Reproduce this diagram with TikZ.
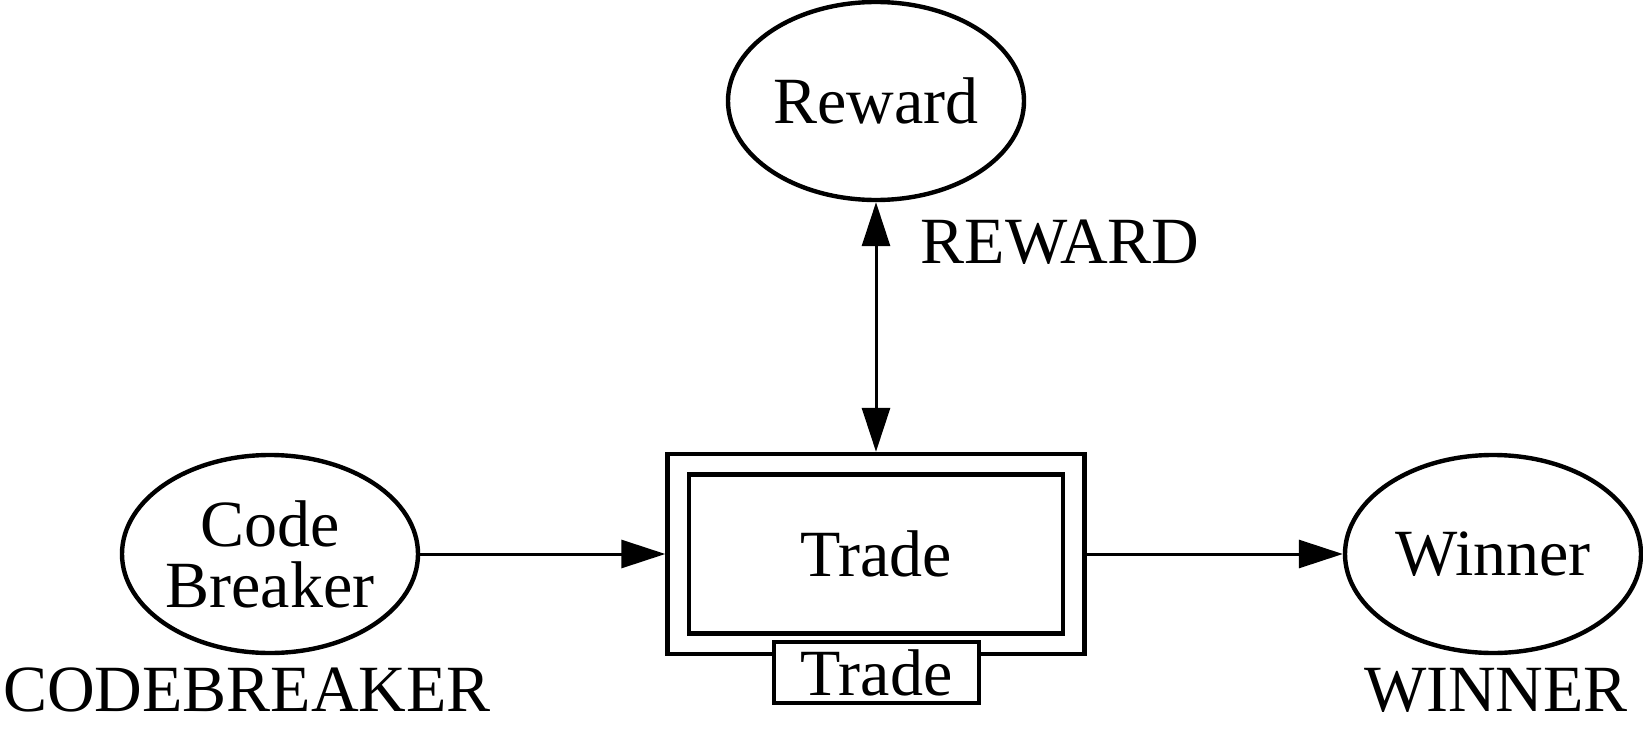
\documentclass[tikz,border=0pt]{standalone}
\usepackage{fontspec}
\setmainfont{Liberation Serif}
\usetikzlibrary{arrows.meta,shapes.geometric}
\tikzset{tri/.tip={Triangle[length=22pt,width=14pt]}}

\begin{document}
\begin{tikzpicture}[x=0.5pt,y=-0.5pt,
	font=\fontsize{33}{30.5}\selectfont,
	actor/.style={ellipse,draw=black,line width=2.2pt,inner sep=0pt,minimum width=148pt,minimum height=99pt,align=center},
	box/.style={rectangle,draw=black,line width=2.2pt,inner sep=0pt},
	flow/.style={line width=1.5pt}]
	\useasboundingbox (0,0) rectangle (1643,749);
	% the three actors
	\node[actor] (reward) at (876,101) {Reward};
	\node[actor,label={[label distance=3pt,xshift=-11.5pt]below:CODEBREAKER}] (codebreaker) at (270,554) {Code\\Breaker};
	\node[actor,label={[label distance=3pt,xshift=1.5pt]below:WINNER}] (winner) at (1493,554) {Winner};
	%% the trade process
	\node[box,minimum width=208.5pt,minimum height=100pt] (tradeouter) at (876,554) {};
	\node[box,minimum width=187pt,minimum height=79.5pt] (trade) at (876,554) {Trade};
	\node[box,fill=white,minimum width=102.5pt,minimum height=30.5pt] (tradetag) at (876.5,672.5) {Trade};
	\node (rewardlbl) at (1060,242) {REWARD};
	% the connectors
	\draw[flow,-tri] (codebreaker) -- (tradeouter);
	\draw[flow,-tri] (tradeouter) -- (winner);
	\draw[flow,tri-tri] (reward) -- (tradeouter);
\end{tikzpicture}
\end{document}
